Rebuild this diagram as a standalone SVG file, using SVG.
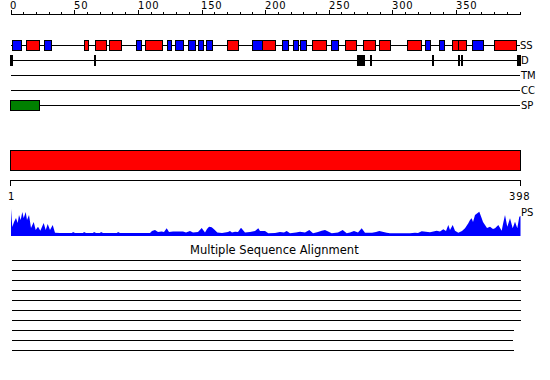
<svg xmlns="http://www.w3.org/2000/svg" width="550" height="380" viewBox="0 0 550 380">
<style>
.t{font-family:"DejaVu Sans",sans-serif;font-size:10px;fill:#000}
.n{letter-spacing:0.8px}
.ln{stroke:#000;stroke-width:1;fill:none;shape-rendering:crispEdges}
.r{fill:#ff0000;stroke:#000;stroke-width:1;shape-rendering:crispEdges}
.b{fill:#0000ff;stroke:#000;stroke-width:1;shape-rendering:crispEdges}
.g{fill:#008000;stroke:#000;stroke-width:1;shape-rendering:crispEdges}
.k{fill:#000;shape-rendering:crispEdges}
</style>
<rect width="550" height="380" fill="#fff"/>
<g id="axis">
<line class="ln" x1="11" y1="14.5" x2="521" y2="14.5"/>
<path class="ln" d="M11.5 10V15M74.5 10V15M138.5 10V15M202.5 10V15M265.5 10V15M329.5 10V15M392.5 10V15M456.5 10V15
M23.5 12V15M36.5 12V15M49.5 12V15M61.5 12V15M87.5 12V15M100.5 12V15M112.5 12V15M125.5 12V15
M151.5 12V15M163.5 12V15M176.5 12V15M189.5 12V15M214.5 12V15M227.5 12V15M240.5 12V15M252.5 12V15
M278.5 12V15M291.5 12V15M303.5 12V15M316.5 12V15M341.5 12V15M354.5 12V15M367.5 12V15M380.5 12V15
M405.5 12V15M418.5 12V15M430.5 12V15M443.5 12V15M469.5 12V15M481.5 12V15M494.5 12V15M507.5 12V15M520.5 12V15"/>
<text class="t n" x="10" y="9">0</text>
<text class="t n" x="74" y="9">50</text>
<text class="t n" x="138" y="9">100</text>
<text class="t n" x="201" y="9">150</text>
<text class="t n" x="265" y="9">200</text>
<text class="t n" x="329" y="9">250</text>
<text class="t n" x="392" y="9">300</text>
<text class="t n" x="456" y="9">350</text>
</g>
<g id="track-SS">
<line class="ln" x1="11" y1="45.5" x2="520" y2="45.5"/>
<rect class="b" x="12.5" y="40.5" width="9" height="10"/>
<rect class="r" x="26.5" y="40.5" width="13" height="10"/>
<rect class="b" x="44.5" y="40.5" width="7" height="10"/>
<rect class="r" x="84.5" y="40.5" width="4" height="10"/>
<rect class="r" x="95.5" y="40.5" width="11" height="10"/>
<rect class="r" x="109.5" y="40.5" width="12" height="10"/>
<rect class="b" x="136.5" y="40.5" width="5" height="10"/>
<rect class="r" x="145.5" y="40.5" width="17" height="10"/>
<rect class="b" x="167.5" y="40.5" width="4" height="10"/>
<rect class="b" x="175.5" y="40.5" width="8" height="10"/>
<rect class="b" x="188.5" y="40.5" width="7" height="10"/>
<rect class="b" x="198.5" y="40.5" width="5" height="10"/>
<rect class="b" x="206.5" y="40.5" width="6" height="10"/>
<rect class="r" x="227.5" y="40.5" width="11" height="10"/>
<rect class="b" x="252.5" y="40.5" width="10" height="10"/>
<rect class="r" x="262.5" y="40.5" width="13" height="10"/>
<rect class="b" x="282.5" y="40.5" width="6" height="10"/>
<rect class="b" x="293.5" y="40.5" width="5" height="10"/>
<rect class="b" x="300.5" y="40.5" width="6" height="10"/>
<rect class="r" x="312.5" y="40.5" width="14" height="10"/>
<rect class="b" x="331.5" y="40.5" width="7" height="10"/>
<rect class="r" x="345.5" y="40.5" width="11" height="10"/>
<rect class="r" x="363.5" y="40.5" width="12" height="10"/>
<rect class="r" x="379.5" y="40.5" width="11" height="10"/>
<rect class="r" x="407.5" y="40.5" width="14" height="10"/>
<rect class="b" x="425.5" y="40.5" width="5" height="10"/>
<rect class="b" x="439.5" y="40.5" width="5" height="10"/>
<rect class="r" x="452.5" y="40.5" width="6" height="10"/>
<rect class="r" x="458.5" y="40.5" width="8" height="10"/>
<rect class="b" x="472.5" y="40.5" width="11" height="10"/>
<rect class="r" x="494.5" y="40.5" width="22" height="10"/>
<text class="t" x="520" y="49">SS</text>
</g>
<g id="track-D">
<line class="ln" x1="11" y1="60.5" x2="520" y2="60.5"/>
<rect class="k" x="10" y="55" width="3" height="11"/>
<rect class="k" x="94" y="55" width="2" height="11"/>
<rect class="k" x="357" y="55" width="8" height="11"/>
<rect class="k" x="370" y="55" width="2" height="11"/>
<rect class="k" x="432" y="55" width="2" height="11"/>
<rect class="k" x="458" y="55" width="2" height="11"/>
<rect class="k" x="461" y="55" width="2" height="11"/>
<rect class="k" x="517" y="55" width="4" height="11"/>
<text class="t" x="521" y="64">D</text>
</g>
<g id="track-TM">
<line class="ln" x1="11" y1="75.5" x2="520" y2="75.5"/>
<text class="t" x="521" y="79">TM</text>
</g>
<g id="track-CC">
<line class="ln" x1="11" y1="90.5" x2="520" y2="90.5"/>
<text class="t" x="521" y="94">CC</text>
</g>
<g id="track-SP">
<line class="ln" x1="11" y1="105.5" x2="520" y2="105.5"/>
<rect class="g" x="10.5" y="100.5" width="29" height="10"/>
<text class="t" x="521" y="109">SP</text>
</g>
<g id="domain-bar">
<rect class="r" x="10.5" y="150.5" width="510" height="20"/>
<path class="ln" d="M10.5 186V180.5H520.5V186"/>
<text class="t n" x="8" y="200">1</text>
<text class="t n" x="509" y="200">398</text>
</g>
<g id="track-PS">
<path fill="#0000ff" d="M11 236V209L12.3 227L14 222L16 218L17.7 223L19 215L20.7 220L22.3 212L23.7 218L25.7 212L27 220L29 215L31 228L33.7 222L35.7 230L38 226.7L40.3 230.7L43.7 223L45.7 230L47.7 224L50 230L52.7 225L55 232.7L60 233L72 233L73 232L75 233L83 233L84 232L86 233L93 233L94 232L96 233L100 233L101 232L103 233L117 233L118 232L120 233L150 233L152 231L155 230L158 232L161.7 231.5L164 232L166.7 228.3L169 232L173 231.5L183 231.5L186 232.5L190 231L193 232.5L198 232L201.7 228L205 232.5L207 229L209 226.7L211.7 227.3L214 229.3L217.3 232.5L222 233L228 232L230 231L232 232.5L235 231.7L238 232L241 227.7L245 232.5L250 232L255 231L258.3 228.3L260 231L265 231L268.3 233.3L275 233L280 232L284 232.5L286.7 231L290 233.3L296 232.5L300 231.7L305 232.5L309.3 230L313 233.3L318 232L321.7 230.7L325 230L331.7 233.3L338 232.5L342.7 230L346.7 233.3L350 232.5L354 231L358 232.5L361.7 228.3L365 232.7L372 232.7L376 232L379.3 231L386.7 232.7L390 233.3L410 233.3L415 232.7L418 233L421.7 231.3L430 232.3L436.7 230.7L440 231.5L443.3 229.3L446 231L448.3 225L450 230L452.7 225L455 230.7L458.3 232.7L462 231L465 228.3L468.3 223.3L470 220L471.7 218.3L473 222L475 215L477.3 213.3L479.3 211.7L481.7 218.3L483 222L485 225L487 228L490 226.7L493 229L495 228.3L498.3 225L501.7 230.7L503 224L505 215L507.3 226.7L510 218.3L512.7 228.3L515 221.7L517.3 228.3L519.3 216.7L520.5 216L520.5 236Z"/>
<text class="t" x="521" y="216">PS</text>
</g>
<g id="msa">
<text class="t" x="190" y="254" style="font-size:11.5px">Multiple Sequence Alignment</text>
<path class="ln" d="M12 260.5H521M12 270.5H521M12 280.5H521M12 290.5H521M12 300.5H521M12 310.5H521M12 320.5H521M12 330.5H514M12 340.5H513M12 350.5H514"/>
</g>
</svg>
